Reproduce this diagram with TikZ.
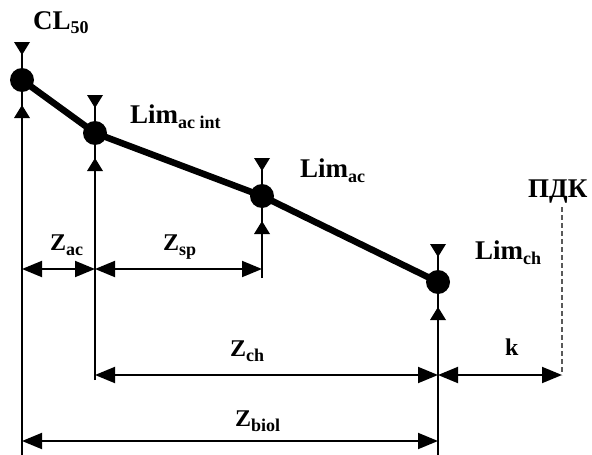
\documentclass[tikz,border=0pt]{standalone}
\usepackage{fontspec}
\setmainfont{Liberation Serif}
\usetikzlibrary{arrows.meta}

\newcommand{\lo}[1]{\raisebox{-5pt}{\fontsize{18}{18}\selectfont\bfseries #1}}

\tikzset{
  pnt/.style={circle,fill=black,inner sep=0pt,minimum size=24pt},
  stem/.style={line width=1.9pt},
  dim/.style={{Triangle[length=20pt,width=16pt]}-{Triangle[length=20pt,width=16pt]},line width=1.9pt},
  lab/.style={font=\fontsize{27}{27}\selectfont\bfseries,inner sep=0pt},
  zlab/.style={font=\fontsize{24}{24}\selectfont\bfseries,inner sep=0pt},
}

\begin{document}
\begin{tikzpicture}[x=1pt,y=-1pt,line cap=butt]
\useasboundingbox (0,0) rectangle (592,455);
% points of the curve
\node[pnt] (p1) at (22,80) {};
\node[pnt] (p2) at (95,133) {};
\node[pnt] (p3) at (262,196) {};
\node[pnt] (p4) at (438,282) {};
\draw[line width=6.5pt,line join=round] (p1.center) -- (p2.center) -- (p3.center) -- (p4.center);
% levels
\coordinate (ya) at (0,269);
\coordinate (yc) at (0,375);
\coordinate (yb) at (0,441);
\coordinate (pdk) at (562,207);
\coordinate (e1) at (0,455);
\coordinate (e2) at (0,380);
\coordinate (e3) at (0,278);
\coordinate (e4) at (0,455);
% markers and verticals
\foreach \p/\e in {p1/e1,p2/e2,p3/e3,p4/e4} {
  \draw[stem] ([yshift=37pt]\p.center) -- ([yshift=-37pt]\p.center);
  \draw[stem] (\p |- \e) -- ([yshift=-37pt]\p.center);
  \fill ([xshift=-8pt,yshift=38pt]\p.center) -- ([xshift=8pt,yshift=38pt]\p.center) -- ([yshift=25pt]\p.center) -- cycle;
  \fill ([xshift=-8pt,yshift=-38pt]\p.center) -- ([xshift=8pt,yshift=-38pt]\p.center) -- ([yshift=-25pt]\p.center) -- cycle;
}
% dimensions
\draw[dim] (p1 |- ya) -- (p2 |- ya);
\draw[dim] (p2 |- ya) -- (p3 |- ya);
\draw[dim] (p2 |- yc) -- (p4 |- yc);
\draw[dim] (p4 |- yc) -- (pdk |- yc);
\draw[dim] (p1 |- yb) -- (p4 |- yb);
\draw[line width=1.3pt,dash pattern=on 5pt off 3pt,gray!70!black] (pdk) -- (pdk |- yc);
% labels
\node[lab,anchor=base west] (cl) at (33,29) {CL\lo{50}};
\node[lab,anchor=base west] (l1) at (130,123) {Lim\lo{ac int}};
\node[lab,anchor=base west] (l2) at (300,177) {Lim\lo{ac}};
\node[lab,anchor=base west] (l3) at (475,259) {Lim\lo{ch}};
\node[lab,anchor=base west] (pk) at (528,197) {ПДК};
\node[zlab,anchor=base west] (za) at (50,250) {Z\lo{ac}};
\node[zlab,anchor=base west] (zs) at (163,250) {Z\lo{sp}};
\node[zlab,anchor=base west] (zc) at (230,356) {Z\lo{ch}};
\node[zlab,anchor=base west] (kk) at (505,355) {k};
\node[zlab,anchor=base west] (zb) at (235,426) {Z\lo{biol}};
\end{tikzpicture}
\end{document}
